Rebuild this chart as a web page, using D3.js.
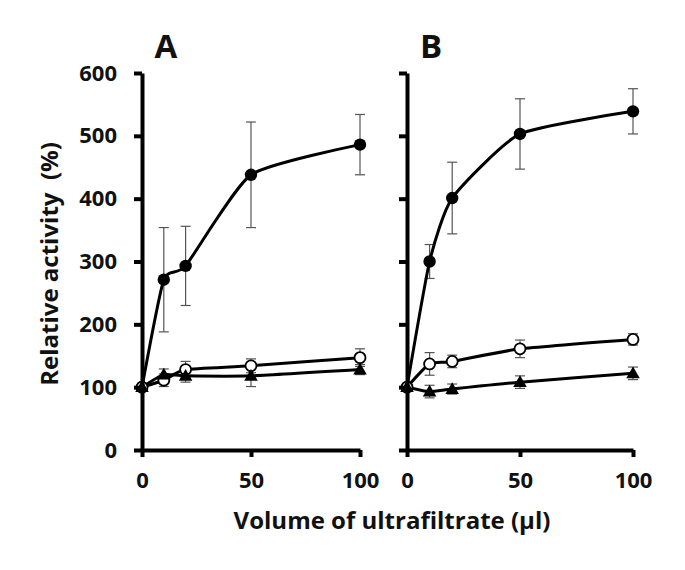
<!DOCTYPE html>
<html>
<head>
<meta charset="utf-8">
<script src="https://cdn.jsdelivr.net/npm/d3@7"></script>
<style>
  html, body { margin: 0; padding: 0; background: #fff; }
  svg { display: block; }
  text { font-family: "Open Sans", "Noto Sans", sans-serif; font-weight: 700; fill: #111; }
</style>
</head>
<body>
<svg id="chart" width="685" height="570"></svg>
<script>
// ---- data ----
const volumes = [0, 10, 20, 50, 100];
const xTicks = [0, 50, 100];
const yTicks = [0, 100, 200, 300, 400, 500, 600];
const panelLabels = ["A", "B"];

// Panel A
const aFilled = [100, 271, 293, 438, 486];
const aFilledErr = [0, 83, 63, 84, 48];
const aOpen = [100, 111, 128, 134, 147];
const aOpenErr = [0, 10, 13, 11, 14];
const aTri = [100, 120, 118, 118, 128];
const aTriErr = [0, 9, 10, 17, 8];

// Panel B
const bFilled = [100, 300, 401, 503, 539];
const bFilledErr = [0, 27, 57, 56, 36];
const bOpen = [100, 137, 141, 161, 176];
const bOpenErr = [0, 18, 10, 14, 9];
const bTri = [100, 93, 97, 108, 122];
const bTriErr = [0, 10, 8, 10, 10];

const panels = [
  { label: panelLabels[0], x0: 142, x1: 360, series: [
    { v: aFilled, e: aFilledErr, m: "filled" },
    { v: aOpen, e: aOpenErr, m: "open" },
    { v: aTri, e: aTriErr, m: "tri" } ] },
  { label: panelLabels[1], x0: 407, x1: 633, series: [
    { v: bFilled, e: bFilledErr, m: "filled" },
    { v: bOpen, e: bOpenErr, m: "open" },
    { v: bTri, e: bTriErr, m: "tri" } ] }
];

const svg = d3.select("#chart");
const y = d3.scaleLinear().domain([0, 600]).range([450, 73]);
const tickFont = "22px";

panels.forEach((p, pi) => {
  const x = d3.scaleLinear().domain([0, 100]).range([p.x0, p.x1]);
  const g = svg.append("g");

  // error bars (behind)
  p.series.forEach(s => {
    const eb = g.append("g").attr("stroke", "#555").attr("stroke-width", 1.2);
    volumes.forEach((vol, i) => {
      if (!s.e[i]) return;
      const cx = x(vol), top = y(s.v[i] + s.e[i]), bot = y(s.v[i] - s.e[i]);
      eb.append("line").attr("x1", cx).attr("x2", cx).attr("y1", top).attr("y2", bot);
      eb.append("line").attr("x1", cx - 5).attr("x2", cx + 5).attr("y1", top).attr("y2", top);
      eb.append("line").attr("x1", cx - 5).attr("x2", cx + 5).attr("y1", bot).attr("y2", bot);
    });
  });

  // lines
  const line = d3.line().x((d, i) => x(volumes[i])).y(d => y(d)).curve(d3.curveCardinal.tension(0.45));
  p.series.forEach(s => {
    g.append("path").attr("d", line(s.v)).attr("fill", "none")
      .attr("stroke", "#000").attr("stroke-width", 3);
  });

  // markers
  const tri = d3.symbol().type(d3.symbolTriangle).size(80);
  p.series.forEach(s => {
    volumes.forEach((vol, i) => {
      const cx = x(vol), cy = y(s.v[i]);
      if (s.m === "filled") {
        g.append("circle").attr("cx", cx).attr("cy", cy).attr("r", 6.2).attr("fill", "#000");
      } else if (s.m === "open") {
        g.append("circle").attr("cx", cx).attr("cy", cy).attr("r", 5.5)
          .attr("fill", "#fff").attr("stroke", "#000").attr("stroke-width", 1.8);
      } else {
        g.append("path").attr("d", tri).attr("transform", `translate(${cx},${cy + 1})`).attr("fill", "#000");
      }
    });
  });

  // axes
  const xAxis = d3.axisBottom(x).tickValues(xTicks).tickSize(7).tickSizeOuter(0).tickPadding(15);
  const xg = g.append("g").attr("transform", "translate(0,450)").call(xAxis);
  xg.select(".domain").attr("stroke", "#000").attr("stroke-width", 4);
  xg.selectAll(".tick line").attr("stroke", "#000").attr("stroke-width", 4);
  xg.selectAll(".tick text").style("font-size", tickFont).style("font-family", "'Open Sans', sans-serif")
    .style("font-weight", "700").attr("fill", "#111");

  const yAxis = d3.axisLeft(y).tickValues(yTicks).tickSize(8).tickSizeOuter(0).tickPadding(17);
  const yg = g.append("g").attr("transform", `translate(${p.x0},0)`).call(yAxis);
  yg.select(".domain").attr("stroke", "#000").attr("stroke-width", 4);
  yg.selectAll(".tick line").attr("stroke", "#000").attr("stroke-width", 4);
  if (pi === 0) {
    yg.selectAll(".tick text").style("font-size", tickFont).style("font-family", "'Open Sans', sans-serif")
      .style("font-weight", "700").attr("fill", "#111");
  } else {
    yg.selectAll(".tick text").remove();
  }

  // panel letter
  svg.append("text").attr("x", p.x0 + 24).attr("y", 58).attr("text-anchor", "middle")
    .style("font-size", "33px").text(p.label);
});

// axis titles
svg.append("text").attr("transform", "translate(58,264) rotate(-90)").attr("text-anchor", "middle")
  .style("font-size", "24px").style("white-space", "pre").text("Relative activity  (%)");
svg.append("text").attr("x", 392).attr("y", 529).attr("text-anchor", "middle")
  .style("font-size", "24px").text("Volume of ultrafiltrate (μl)");
</script>
</body>
</html>
